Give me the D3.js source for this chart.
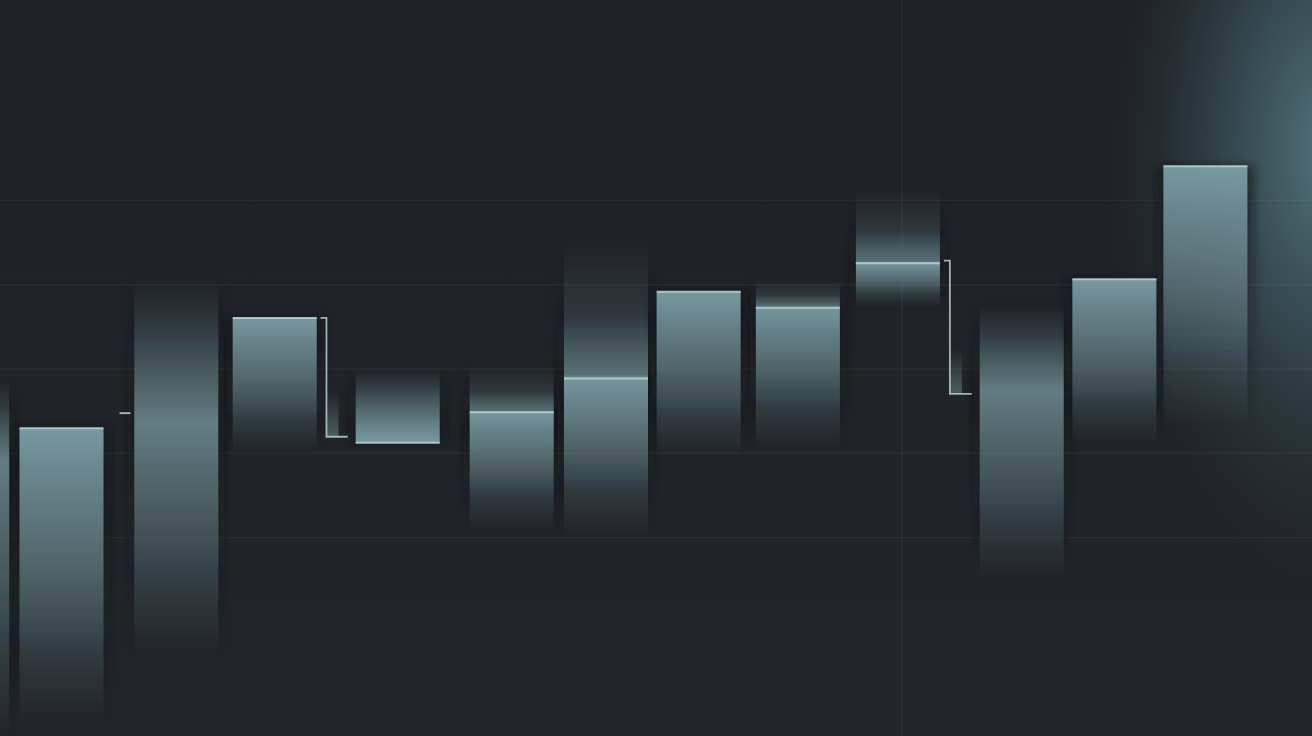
<!DOCTYPE html>
<html>
<head>
<meta charset="utf-8">
<script src="https://cdn.jsdelivr.net/npm/d3@7"></script>
<style>
  html, body { margin: 0; padding: 0; background: #202328; overflow: hidden; }
  svg { display: block; }
</style>
</head>
<body>
<script>
// ---------------- data ----------------
const days       = [-4,   7.5,  21.5, 33.5, 48.5, 62.4, 73.9, 85.2, 97.3, 109.5, 124.6, 135.9, 147];
const edgeValues = [29.1, 32.9, 33.5, 46.0, 31.2, 34.8, 38.8, 49.1, 47.2, 52.5,  37.4,  50.6,  64.0];
const glowHigh   = [38.6, 32.9, 50.5, 46.0, 39.8, 40.4, 55.3, 49.1, 50.6, 61.2,  47.5,  50.6,  64.0];
const glowLow    = [-4,   -2,   6.0,  30.0, 31.2, 20.8, 20.2, 29.5, 30.3, 47.3,  15.0,  31.0,  33.0];
const kinds      = ["ghost","top","ghost","top","bottom","mid","mid","top","mid","mid","ghost","top","top"];

const connectorAfter = [1, 3, 9];
const connectorFrom  = [34.7, 46.0, 52.8];
const connectorTo    = [34.7, 31.9, 37.0];

const gridValues = [20, 30, 40, 50, 60];
const markerDay = 110;

// ---------------- setup ----------------
const W = 1312, H = 736;
const x = d3.scaleLinear().domain([0, 160]).range([0, W]);
const y = d3.scaleLinear().domain([0, 80]).range([705.5, 31.5]);
const barW = x(10.25) - x(0);

const svg = d3.select("body").append("svg").attr("width", W).attr("height", H);
const defs = svg.append("defs");

// background
const bg = defs.append("linearGradient").attr("id", "bg").attr("x1", 0).attr("y1", 0).attr("x2", 0).attr("y2", 1);
bg.append("stop").attr("offset", 0).attr("stop-color", "#1e2126");
bg.append("stop").attr("offset", 1).attr("stop-color", "#222529");
svg.append("rect").attr("width", W).attr("height", H).attr("fill", "url(#bg)");

// top-right glow
const rg = defs.append("radialGradient").attr("id", "corner")
  .attr("gradientUnits", "userSpaceOnUse").attr("cx", 1330).attr("cy", 150).attr("r", 380)
  .attr("gradientTransform", "translate(1330,150) scale(0.6,1.15) translate(-1330,-150)");
rg.append("stop").attr("offset", 0).attr("stop-color", "#5d838c").attr("stop-opacity", 0.85);
rg.append("stop").attr("offset", 0.45).attr("stop-color", "#45636b").attr("stop-opacity", 0.55);
rg.append("stop").attr("offset", 1).attr("stop-color", "#2a3539").attr("stop-opacity", 0);
svg.append("rect").attr("width", W).attr("height", H).attr("fill", "url(#corner)");

// blur filter for dark halo
const blur = defs.append("filter").attr("id", "blur").attr("x", "-30%").attr("y", "-30%").attr("width", "160%").attr("height", "160%");
blur.append("feGaussianBlur").attr("stdDeviation", 4);

// grid (via axis)
const gridG = svg.append("g").attr("class", "grid")
  .call(d3.axisLeft(y).tickValues(gridValues).tickSize(-W).tickFormat(""));
gridG.select(".domain").remove();
gridG.selectAll(".tick line").attr("stroke", "#ffffff").attr("stroke-opacity", 0.045).attr("stroke-width", 1.5);

svg.append("line")
  .attr("x1", x(markerDay)).attr("x2", x(markerDay)).attr("y1", 0).attr("y2", H)
  .attr("stroke", "#ffffff").attr("stroke-opacity", 0.07).attr("stroke-width", 1);

const BAR = "#80a2aa";
const LINE = "#b6ced4";
const DARK = "#111418";

const bars = days.map((d, i) => ({ d, edge: edgeValues[i], hi: glowHigh[i], lo: glowLow[i], kind: kinds[i], i }));

function rectSpan(b) {
  if (b.kind === "top") return [y(b.edge), y(b.lo)];
  if (b.kind === "bottom") return [y(b.hi), y(b.edge)];
  return [y(b.hi), y(b.lo)];
}

bars.forEach(b => {
  const [y0, y1] = rectSpan(b);
  const e = (y(b.edge) - y0) / (y1 - y0);
  let stops;
  if (b.kind === "top") stops = [[0, 0.92], [0.45, 0.55], [0.8, 0.18], [1, 0]];
  else if (b.kind === "bottom") stops = [[0, 0], [0.45, 0.45], [0.8, 0.8], [1, 0.92]];
  else if (b.kind === "mid") stops = [[0, 0], [e * 0.55, 0.2], [e * 0.97, 0.62], [e, 0.9], [e + (1 - e) * 0.35, 0.6], [e + (1 - e) * 0.7, 0.22], [1, 0]];
  else stops = [[0, 0.0], [e * 0.5, 0.33], [e, 0.72], [e + (1 - e) * 0.45, 0.4], [1, 0]];
  [["g", BAR], ["h", DARK]].forEach(([p, col]) => {
    const g = defs.append("linearGradient").attr("id", p + b.i).attr("x1", 0).attr("y1", 0).attr("x2", 0).attr("y2", 1);
    stops.forEach(s => g.append("stop").attr("offset", s[0]).attr("stop-color", col).attr("stop-opacity", s[1]));
  });
  b.y0 = y0; b.y1 = y1;
});

// dark halo behind bars (same fade as the bar)
svg.append("g").selectAll("rect").data(bars).join("rect")
  .attr("x", b => x(b.d) - barW / 2 - 6)
  .attr("y", b => b.y0)
  .attr("width", barW + 12)
  .attr("height", b => b.y1 - b.y0)
  .attr("fill", b => `url(#h${b.i})`)
  .attr("opacity", 0.7)
  .attr("filter", "url(#blur)");

// bars
svg.append("g").selectAll("rect").data(bars).join("rect")
  .attr("x", b => x(b.d) - barW / 2)
  .attr("y", b => b.y0)
  .attr("width", barW)
  .attr("height", b => b.y1 - b.y0)
  .attr("fill", b => `url(#g${b.i})`);

// bright edges
svg.append("g").selectAll("line").data(bars.filter(b => b.kind !== "ghost")).join("line")
  .attr("x1", b => x(b.d) - barW / 2)
  .attr("x2", b => x(b.d) + barW / 2)
  .attr("y1", b => y(b.edge))
  .attr("y2", b => y(b.edge))
  .attr("stroke", LINE)
  .attr("stroke-width", 2)
  .attr("stroke-opacity", 0.9);

// connectors
connectorAfter.forEach((ai, k) => {
  const right = x(days[ai]) + barW / 2;
  const nextLeft = x(days[ai + 1]) - barW / 2;
  const f = y(connectorFrom[k]), t = y(connectorTo[k]);
  if (connectorFrom[k] === connectorTo[k]) {
    svg.append("line").attr("x1", right + 16).attr("x2", right + 27).attr("y1", f).attr("y2", f)
      .attr("stroke", LINE).attr("stroke-width", 2).attr("stroke-opacity", 0.85);
  } else {
    const vx = right + (nextLeft - right) * 0.25;
    const gid = "cg" + k;
    const cg = defs.append("linearGradient").attr("id", gid).attr("x1", 0).attr("y1", 0).attr("x2", 0).attr("y2", 1);
    cg.append("stop").attr("offset", 0).attr("stop-color", BAR).attr("stop-opacity", 0);
    cg.append("stop").attr("offset", 1).attr("stop-color", BAR).attr("stop-opacity", 0.45);
    svg.append("rect").attr("x", vx).attr("y", t - 45).attr("width", Math.min(12, nextLeft - 8 - vx)).attr("height", 45)
      .attr("fill", `url(#${gid})`);
    svg.append("path")
      .attr("d", `M${vx - 6},${f} H${vx} V${t} H${nextLeft - 8}`)
      .attr("fill", "none").attr("stroke", LINE).attr("stroke-width", 1.8).attr("stroke-opacity", 0.85);
  }
});
</script>
</body>
</html>
